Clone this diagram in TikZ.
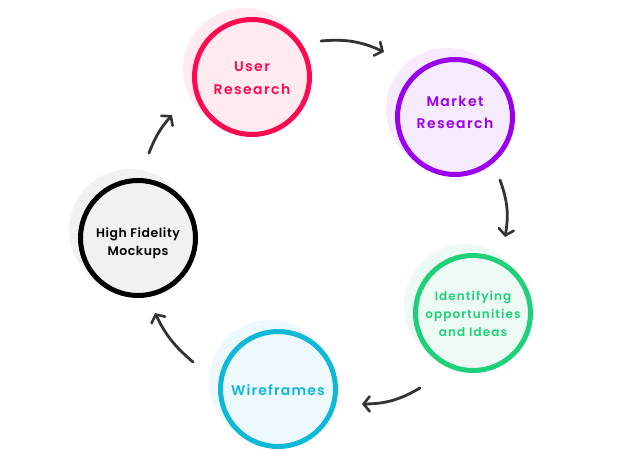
\documentclass[tikz,border=0pt]{standalone}
\usepackage{fontspec}
\setmainfont{Poppins}[BoldFont={Poppins SemiBold}]
\usetikzlibrary{arrows.meta}
\definecolor{cuser}{HTML}{FF0A4E}
\definecolor{fuser}{HTML}{FFEAF0}
\definecolor{cmark}{HTML}{9A00EE}
\definecolor{fmark}{HTML}{F5EAFE}
\definecolor{cidea}{HTML}{1FD07A}
\definecolor{fidea}{HTML}{ECFAF3}
\definecolor{cwire}{HTML}{0FB8D6}
\definecolor{fwire}{HTML}{EDF8FD}
\definecolor{chifi}{HTML}{000000}
\definecolor{fhifi}{HTML}{F1F1F1}
\definecolor{arrowc}{HTML}{333333}
\tikzset{
  ring/.style={circle, line width=5pt, minimum size=115pt, inner sep=0pt},
  shade/.style={circle, minimum size=122pt, inner sep=0pt},
  lbl/.style={align=center, inner sep=0pt},
  flow/.style={line width=2.8pt, arrowc, line cap=round,
    -{Straight Barb[length=6pt, width=15pt, line width=2.6pt, line cap=round]}},
}
\begin{document}
\begin{tikzpicture}[x=1pt,y=1pt]
\useasboundingbox (0,0) rectangle (641,450);
% shadows
\node[shade, fill=fuser] (suser) at (244,381) {};
\node[shade, fill=fmark] (smark) at (447,341) {};
\node[shade, fill=fidea] (sidea) at (465,145) {};
\node[shade, fill=fwire] (swire) at (270,69) {};
\node[shade, fill=fhifi] (shifi) at (130,220) {};
% rings
\node[ring, draw=cuser, fill=fuser] (user) at (252,373) {};
\node[ring, draw=cmark, fill=fmark] (mark) at (455,333) {};
\node[ring, draw=cidea, fill=fidea] (idea) at (473,137) {};
\node[ring, draw=cwire, fill=fwire] (wire) at (278,61) {};
\node[ring, draw=chifi, fill=fhifi] (hifi) at (138,212) {};
% labels
\node[lbl, text=cuser, font=\bfseries\fontsize{14}{23}\selectfont\addfontfeatures{LetterSpace=10}] (tuser) at ([yshift=-1pt]user.center) {User\\Research};
\node[lbl, text=cmark, font=\bfseries\fontsize{14}{22}\selectfont\addfontfeatures{LetterSpace=10}] (tmark) at ([yshift=5pt]mark.center) {Market\\Research};
\node[lbl, text=cidea, font=\bfseries\fontsize{12}{18}\selectfont\addfontfeatures{LetterSpace=9}] (tidea) at ([yshift=-1pt]idea.center) {Identifying\\opportunities\\and Ideas};
\node[lbl, text=cwire, font=\bfseries\fontsize{14}{22}\selectfont\addfontfeatures{LetterSpace=8}] (twire) at ([yshift=-1pt]wire.center) {Wireframes};
\node[lbl, text=chifi, font=\bfseries\fontsize{12.5}{18}\selectfont\addfontfeatures{LetterSpace=4.5}] (thifi) at ([yshift=-5.5pt]hifi.center) {High Fidelity\\Mockups};
% arrow ends
\coordinate (a1s) at (321,409); \coordinate (a1e) at (384,398);
\coordinate (a2s) at (500,270); \coordinate (a2e) at (505,213);
\coordinate (a3s) at (420,62);  \coordinate (a3e) at (362,46);
\coordinate (a4s) at (193,88);  \coordinate (a4e) at (155,137);
\coordinate (a5s) at (149,297); \coordinate (a5e) at (172,335);
\draw[flow] (a1s) to[bend left=15] (a1e);
\draw[flow] (a2s) to[bend left=15] (a2e);
\draw[flow] (a3s) to[bend left=15] (a3e);
\draw[flow] (a4s) to[bend left=12] (a4e);
\draw[flow] (a5s) to[bend left=10] (a5e);
\end{tikzpicture}
\end{document}
